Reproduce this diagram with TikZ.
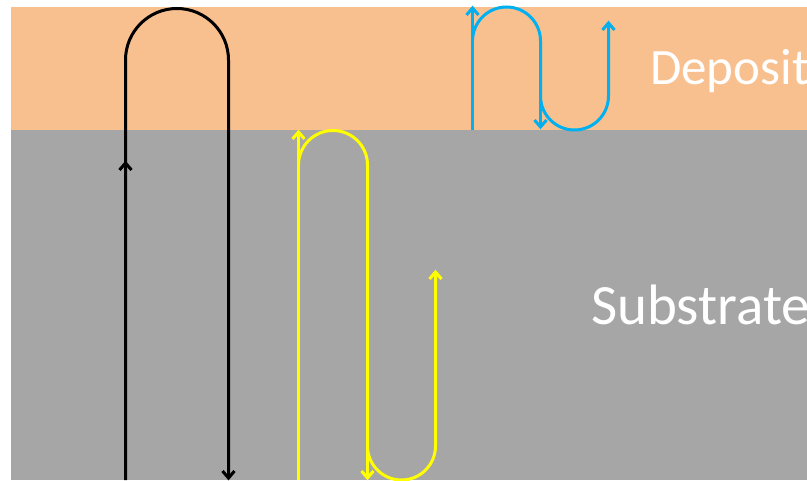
\documentclass[tikz,border=0pt]{standalone}
\usepackage{fontspec}
\setmainfont{Carlito}
\definecolor{depositorange}{HTML}{F9C08F}
\definecolor{substrategrey}{HTML}{A6A6A6}
\definecolor{pathblue}{HTML}{00B0F0}
\definecolor{pathyellow}{HTML}{FFFF00}
\tikzset{track/.style={line width=3pt},
 barb/.pic={\draw [track, line join=miter] (-6,-7) -- (0,0) -- (6,-7);},
 label/.style={text=white,inner sep=0pt,anchor=base west},
 }

\begin{document}
\begin{tikzpicture}[x=1pt,y=1pt]
        \useasboundingbox (0,0) rectangle (807,480);
        % layers
        \fill [substrategrey] (11,0) rectangle (807,350);
        \fill [depositorange] (11,350) rectangle (807,473);
        \node [label] (deposit) at (650,395) {\fontsize{51}{60}\selectfont Deposit};
        \node [label] (substrate) at (591,155) {\fontsize{57}{66}\selectfont Substrate};
        % black
        \draw [track, black] (125.5,0) -- (125.5,420) arc[start angle=180, end angle=0, radius=51.5] -- (228.5,1);
        \pic [black] at (125.5,317) {barb};
        \pic [black, rotate=180] at (228.5,2) {barb};
        % yellow
        \draw [track, pathyellow] (298.5,0) -- (298.5,348);
        \draw [track, pathyellow] (298.5,315) arc[start angle=180, end angle=0, radius=34.5] -- (367.5,34)
            arc[start angle=180, end angle=360, radius=34] -- (435.5,208);
        \draw [track, pathyellow] (367.5,34) -- (367.5,1);
        \pic [pathyellow] at (298.5,348) {barb};
        \pic [pathyellow, rotate=180] at (367.5,2) {barb};
        \pic [pathyellow] at (435.5,208) {barb};
        % blue
        \draw [track, pathblue] (472.5,350) -- (472.5,472);
        \draw [track, pathblue] (472.5,439) arc[start angle=180, end angle=0, radius=34] -- (540.5,384)
            arc[start angle=180, end angle=360, radius=34] -- (608.5,457);
        \draw [track, pathblue] (540.5,384) -- (540.5,352);
        \pic [pathblue] at (472.5,472) {barb};
        \pic [pathblue, rotate=180] at (540.5,353) {barb};
        \pic [pathblue] at (608.5,457) {barb};
    \end{tikzpicture}
\end{document}
